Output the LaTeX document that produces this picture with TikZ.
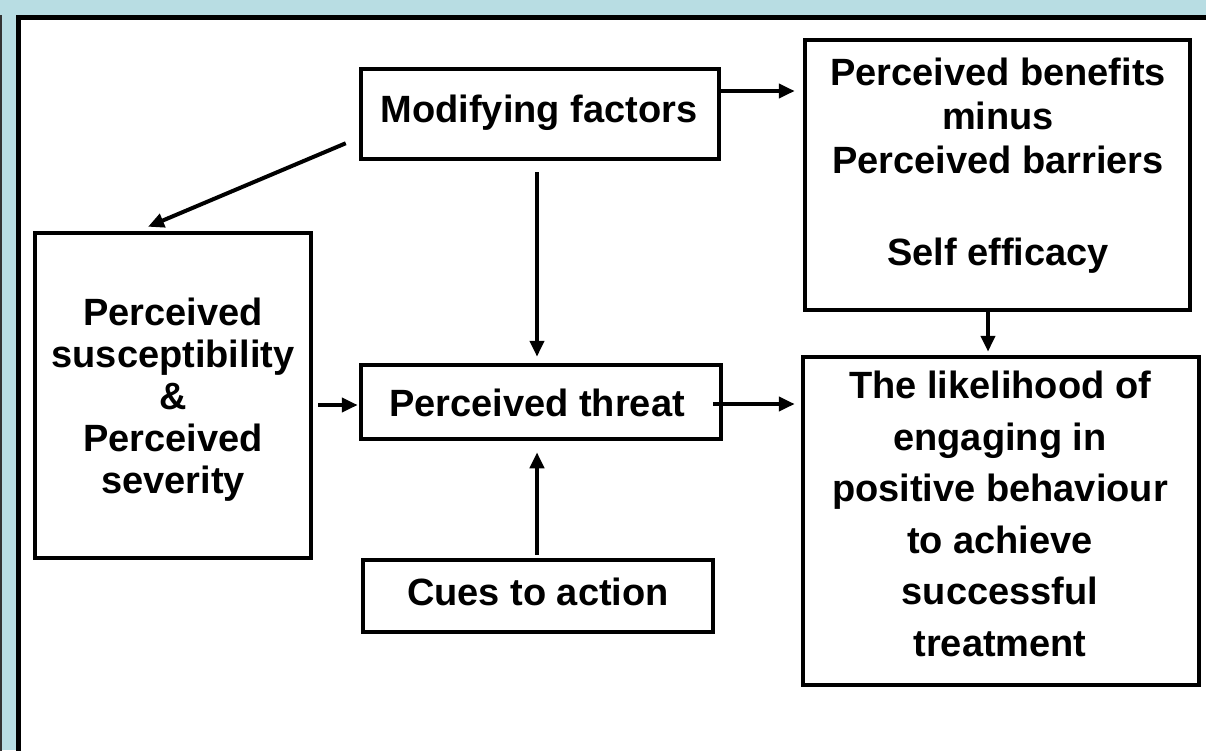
\documentclass[tikz,border=0pt]{standalone}
\usepackage{fontspec}
\setmainfont{Liberation Sans}
\usetikzlibrary{arrows.meta,calc}
\definecolor{bgblue}{RGB}{184,221,227}
\begin{document}
\begin{tikzpicture}[x=1pt,y=-1pt,
  box/.style={draw, line width=4.5pt, inner sep=0pt, fill=white},
  txt/.style={font=\bfseries\fontsize{38}{44}\selectfont, align=center, inner sep=0pt},
  arr/.style={line width=4pt, -{Triangle[length=16pt,width=14pt]}}]
\useasboundingbox (0,0) rectangle (1206,750);
\clip (0,0) rectangle (1206,750);
% background panel
\fill[bgblue] (0,0) rectangle (1206,750);
\fill[white] (18.5,17) rectangle (1230,780);
\draw[line width=5pt] (18.5,790) -- (18.5,17) -- (1230,17);
\draw[line width=1.5pt, black!80] (0.75,15) -- (0.75,760);
% boxes
\node[box, minimum width=358pt, minimum height=90pt] (mod) at (540,114) {};
\node[txt] (modt) at (539,113) {Modifying factors};
\node[box, minimum width=385pt, minimum height=270pt] (ben) at (997.5,175) {};
\node[txt] (bent) at (998,166) {Perceived benefits\\minus\\Perceived barriers\\[48pt]Self efficacy};
\node[box, minimum width=276pt, minimum height=325pt] (left) at (173,395.5) {};
\node[txt, font=\bfseries\fontsize{38}{42}\selectfont] (leftt) at (173,400) {Perceived\\susceptibility\\\&\\Perceived\\severity};
\node[box, minimum width=360pt, minimum height=74pt] (threat) at (541,402) {};
\node[txt] (threatt) at (537,403) {Perceived threat};
\node[box, minimum width=350pt, minimum height=72pt] (cues) at (538,596) {};
\node[txt] (cuest) at (538,592) {Cues to action};
\node[box, minimum width=396pt, minimum height=328pt] (lik) at (1001,521) {};
\node[txt, font=\bfseries\fontsize{38}{51.5}\selectfont] (likt) at (1000,514) {The likelihood of\\engaging in\\positive behaviour\\to achieve\\successful\\treatment};
% connectors
\draw[arr] ($(mod.east)+(-2,-23)$) -- ($(mod.east -| ben.west)+(-8,-23)$);
\draw[arr] ($(mod.south west)+(-13,-18)$) -- ($(left.north)+(-25,-4)$);
\draw[arr] ($(mod.south)+(-3,11)$) -- ($(mod.south |- threat.north)+(-3,-6)$);
\draw[arr] ($(cues.north)+(-1,-3)$) -- ($(cues.north |- threat.south)+(-1,11)$);
\draw[arr] ($(left.east |- threat.west)+(5,3)$) -- ($(threat.west)+(-1,3)$);
\draw[arr] ($(threat.east)+(-10,2)$) -- ($(threat.east -| lik.west)+(-6,2)$);
\draw[arr] ($(ben.south)+(-9.5,0)$) -- ($(ben.south |- lik.north)+(-9.5,-3)$);
\end{tikzpicture}
\end{document}
